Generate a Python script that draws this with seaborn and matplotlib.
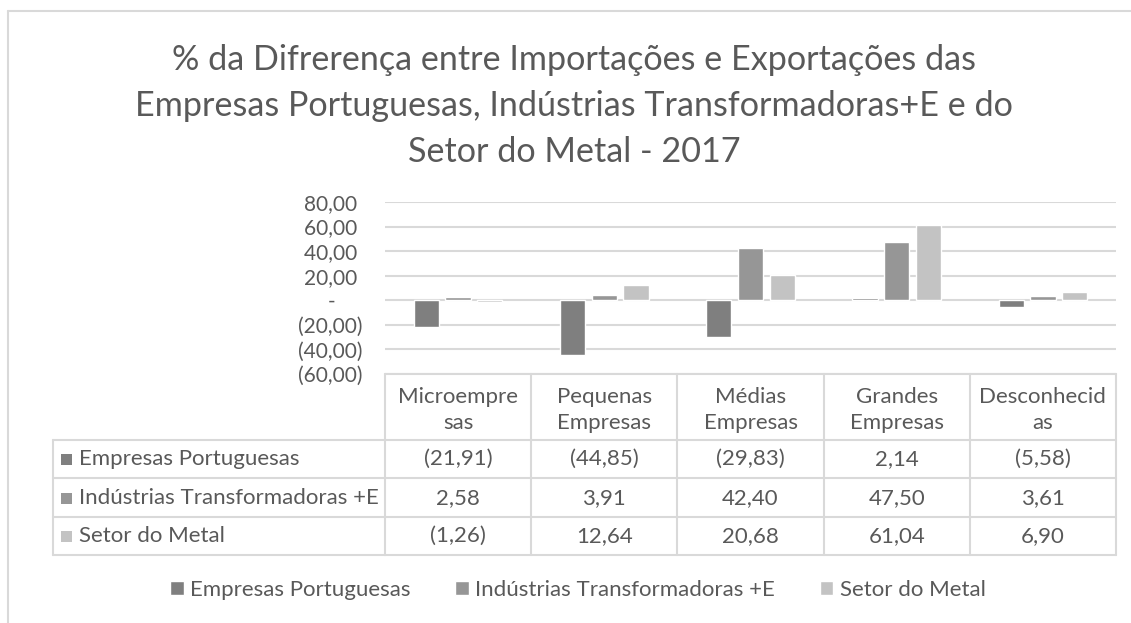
import numpy as np
import pandas as pd
import seaborn as sns
import matplotlib
matplotlib.use("Agg")
import matplotlib.pyplot as plt
import matplotlib.transforms as mtransforms
from matplotlib.lines import Line2D
from matplotlib.patches import Rectangle

# ---------------- data ----------------
categories = ["Microempresas", "Pequenas Empresas", "Médias Empresas",
              "Grandes Empresas", "Desconhecidas"]
header_labels = ["Microempre\nsas", "Pequenas\nEmpresas", "Médias\nEmpresas",
                 "Grandes\nEmpresas", "Desconhecid\nas"]
series = ["Empresas Portuguesas", "Indústrias Transformadoras +E", "Setor do Metal"]
empresas_portuguesas = [-21.91, -44.85, -29.83, 2.14, -5.58]
industrias_transf = [2.58, 3.91, 42.40, 47.50, 3.61]
setor_metal = [-1.26, 12.64, 20.68, 61.04, 6.90]
y_ticks = [-60, -40, -20, 0, 20, 40, 60, 80]
title = ("% da Difrerença entre Importações e Exportações das\n"
         "Empresas Portuguesas, Indústrias Transformadoras+E e do\n"
         "Setor do Metal - 2017")

values = [empresas_portuguesas, industrias_transf, setor_metal]
df = pd.DataFrame({
    "categoria": np.tile(categories, len(series)),
    "serie": np.repeat(series, len(categories)),
    "valor": np.concatenate(values),
})

colors = ["#7f7f7f", "#969696", "#c3c3c3"]
TXT = "#595959"
GRID = "#d9d9d9"

sns.set_theme(style="white")
plt.rcParams["font.family"] = ["Lato", "DejaVu Sans"]

W, H = 1131, 623
fig = plt.figure(figsize=(W / 100, H / 100), dpi=100)
fig.patch.set_facecolor("white")

def fx(px):
    return px / W

def fy(py):
    return 1 - py / H

pix = mtransforms.Affine2D().scale(1 / W, -1 / H).translate(0, 1) + fig.transFigure

# outer chart border (cropped at right/bottom)
fig.add_artist(Line2D([fx(8), 1.0], [fy(11), fy(11)], transform=fig.transFigure,
                      color=GRID, lw=1.5))
fig.add_artist(Line2D([fx(8), fx(8)], [fy(11), 0.0], transform=fig.transFigure,
                      color=GRID, lw=1.5))

# title
fig.text(fx(574), fy(106), title, ha="center", va="center", fontsize=24.6,
         color=TXT, linespacing=1.55)

# plot axes
ax_l, ax_r, ax_t, ax_b = 385, 1116, 202, 374
ax = fig.add_axes([fx(ax_l), fy(ax_b), fx(ax_r) - fx(ax_l), (ax_b - ax_t) / H])
sns.barplot(data=df, x="categoria", y="valor", hue="serie", order=categories,
            hue_order=series, palette=colors, width=0.65, gap=0.2,
            saturation=1, ax=ax, errorbar=None)
handles, labels = ax.get_legend_handles_labels()
if ax.get_legend() is not None:
    ax.get_legend().remove()

ax.set_xlim(-0.5, len(categories) - 0.5)
ax.set_ylim(y_ticks[0], y_ticks[-1])
ax.set_yticks(y_ticks)

def tick_fmt(v):
    if abs(v) < 1e-9:
        return "-     "
    s = f"{abs(v):.2f}".replace(".", ",")
    return f"({s})" if v < 0 else s + " "

ax.set_yticklabels([tick_fmt(v) for v in y_ticks])
ax.tick_params(axis="y", length=0, pad=16, labelsize=15, labelcolor=TXT)
ax.tick_params(axis="x", length=0, labelbottom=False)
ax.set_xlabel("")
ax.set_ylabel("")
for s in ax.spines.values():
    s.set_visible(False)
ax.yaxis.grid(True, color=GRID, lw=1.5)
ax.xaxis.grid(False)
ax.set_axisbelow(True)
ax.set_facecolor("none")

# ---------------- data table ----------------
blend = mtransforms.blended_transform_factory(ax.transData, pix)
n = len(categories)
row_lines = [440, 478, 517, 555]
row_centers = [459, 498, 536]
tbl_left = 53
FS = 16

# horizontal lines
ax.plot([-0.5, n - 0.5], [374, 374], transform=blend, color=GRID, lw=1.5, clip_on=False)
for yl in row_lines:
    ax.plot([-0.5, n - 0.5], [yl, yl], transform=blend, color=GRID, lw=1.5, clip_on=False)
    ax.plot([tbl_left, ax_l], [yl, yl], transform=pix, color=GRID, lw=1.5, clip_on=False)
# vertical lines
for i in range(n + 1):
    ax.plot([i - 0.5, i - 0.5], [374, 555], transform=blend, color=GRID, lw=1.5,
            clip_on=False)
ax.plot([tbl_left, tbl_left], [440, 555], transform=pix, color=GRID, lw=1.5, clip_on=False)

# header texts
for i, lab in enumerate(header_labels):
    ax.text(i, 410, lab, transform=blend, ha="center", va="center", fontsize=FS,
            color=TXT, linespacing=1.4, clip_on=False)

def val_fmt(v):
    s = f"{abs(v):.2f}".replace(".", ",")
    return f"({s})" if v < 0 else s

for r, (name, vals, col) in enumerate(zip(series, values, colors)):
    yc = row_centers[r]
    fig.add_artist(Rectangle((fx(61), fy(yc + 5.5)), 11 / W, 11 / H,
                             transform=fig.transFigure, facecolor=col, edgecolor="none"))
    ax.text(79, yc, name, transform=pix, ha="left", va="center", fontsize=FS,
            color=TXT, clip_on=False)
    for i, v in enumerate(vals):
        ax.text(i, yc, val_fmt(v), transform=blend, ha="center", va="center",
                fontsize=FS, color=TXT, clip_on=False)

# legend
leg = fig.legend(handles, labels, loc="center", bbox_to_anchor=(fx(578), fy(590)),
                 ncol=3, frameon=False, fontsize=FS, labelcolor=TXT,
                 handlelength=0.6, handleheight=0.6, handletextpad=0.3,
                 columnspacing=2.0)

fig.savefig("out.png", dpi=100, facecolor="white")
